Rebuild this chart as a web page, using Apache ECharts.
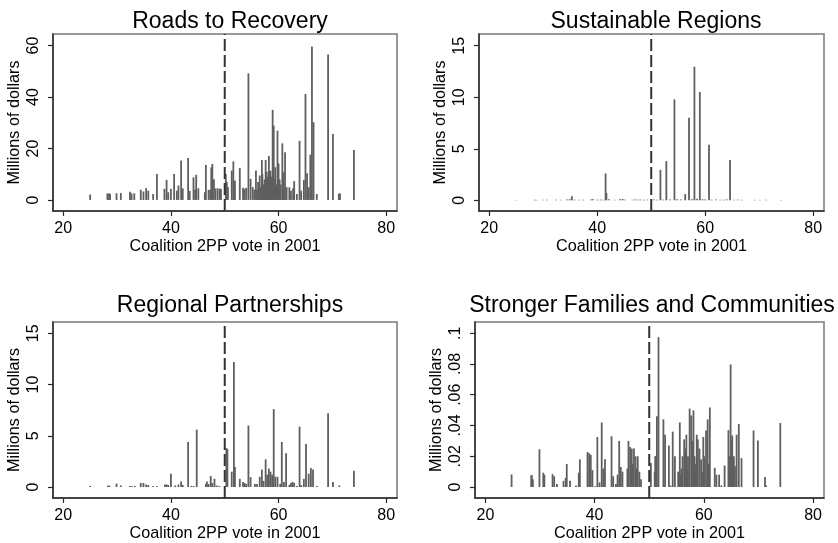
<!DOCTYPE html>
<html>
<head>
<meta charset="utf-8">
<script src="https://cdn.jsdelivr.net/npm/echarts@6/dist/echarts.min.js"></script>
<style>
  html, body { margin: 0; padding: 0; background: #fff; }
  #main { width: 838px; height: 543px; }
</style>
</head>
<body>
<div id="main"></div>
<script type="text/javascript">
    // spikes: [coalition 2PP vote in 2001, millions of dollars]
    var roadsData = [
        [25.0,2.1],[28.2,2.5],[28.5,2.6],[28.7,2.3],[29.9,2.6],[30.7,2.7],[32.4,3.2],[32.7,2.5],[33.2,2.6],
        [34.4,4.0],[34.9,3.3],[35.4,4.6],[35.8,3.6],[36.7,2.3],[37.4,10.1],[38.8,4.3],[39.2,7.8],[39.5,3.0],
        [40.0,4.3],[40.6,10.1],[41.1,3.6],[41.4,5.6],[41.9,15.3],[42.2,4.5],[43.2,16.3],[43.5,3.5],[44.2,8.8],
        [44.5,4.0],[44.7,9.8],[45.1,4.5],[46.3,3.0],[46.5,13.6],[47.0,3.9],[47.3,4.0],[47.5,12.7],[47.7,14.0],
        [48.0,8.0],[48.3,4.5],[48.7,4.5],[49.1,4.4],[49.3,4.3],[50.2,10.1],[50.4,6.9],[50.6,5.0],[51.3,11.4],
        [51.6,15.0],[51.9,7.5],[52.8,12.4],[53.4,4.7],[53.7,4.3],[54.0,4.7],[54.4,49.2],[54.8,8.2],[55.2,5.0],
        [55.5,4.0],[55.8,11.4],[56.0,4.0],[56.2,7.0],[56.5,9.5],[56.7,5.0],[56.9,15.5],[57.0,10.0],[57.2,6.0],
        [57.4,8.0],[57.6,15.5],[57.8,11.0],[57.9,9.0],[58.0,7.0],[58.2,17.1],[58.4,11.0],[58.5,11.4],[58.7,9.0],
        [58.9,35.0],[59.1,28.9],[59.2,8.0],[59.4,12.7],[59.6,6.0],[59.8,26.9],[60.0,14.2],[60.2,8.0],[60.4,6.0],
        [60.7,22.0],[60.9,10.8],[61.0,4.0],[61.2,18.5],[61.5,5.0],[62.0,4.9],[62.3,3.6],[62.7,4.5],[62.9,7.3],
        [63.4,2.3],[63.9,23.0],[64.2,3.6],[64.7,7.8],[65.0,41.2],[65.3,10.4],[65.6,4.9],[65.9,17.6],[66.2,59.6],
        [66.5,30.2],[67.1,2.3],[69.2,56.5],[70.1,25.6],[71.2,2.4],[71.4,2.6],[74.0,19.4]
    ];
    var sustainData = [
        [25.0,0.03],[28.4,0.05],[28.7,0.04],[29.9,0.05],[30.7,0.04],[32.4,0.06],[33.2,0.05],[34.4,0.08],[34.9,0.1],
        [35.3,0.4],[35.8,0.06],[36.7,0.05],[37.4,0.05],[38.9,0.08],[39.2,0.1],[40.0,0.06],[40.6,0.07],[41.1,0.05],
        [41.55,2.6],[41.7,0.7],[42.2,0.1],[43.2,0.05],[44.2,0.1],[44.7,0.12],[45.1,0.06],[46.5,0.05],[47.0,0.08],
        [47.5,0.06],[48.0,0.07],[48.7,0.05],[49.3,0.06],[50.5,0.08],[51.0,0.05],[51.7,2.95],[52.2,0.06],[52.8,3.8],
        [53.5,0.08],[54.3,9.8],[54.8,0.1],[55.5,0.07],[56.3,0.6],[57.0,8.0],[57.5,0.1],[58.0,12.96],[58.5,0.15],
        [59.0,10.5],[59.5,0.1],[60.0,0.08],[60.7,5.4],[61.2,0.06],[62.0,0.07],[62.8,0.05],[63.4,0.06],[64.0,0.08],
        [64.6,3.9],[65.3,0.05],[66.0,0.06],[66.7,0.05],[69.2,0.04],[70.1,0.04],[71.3,0.05],[74.0,0.03]
    ];
    var regionalData = [
        [25.0,0.1],[28.3,0.15],[28.6,0.12],[29.9,0.33],[30.7,0.15],[32.4,0.1],[32.8,0.08],[33.3,0.1],[34.4,0.4],
        [34.9,0.4],[35.4,0.25],[35.8,0.2],[36.7,0.1],[37.4,0.1],[38.9,0.25],[39.2,0.25],[39.5,0.2],[40.0,1.3],
        [40.8,0.15],[41.4,0.25],[41.9,0.55],[42.2,0.2],[43.2,4.4],[43.8,0.1],[44.2,0.1],[44.8,5.6],[46.5,0.3],
        [46.7,0.55],[47.0,0.3],[47.4,1.07],[47.7,0.4],[48.1,0.8],[48.5,0.15],[49.0,0.1],[50.3,3.8],[50.5,3.7],
        [51.3,1.5],[51.7,12.2],[51.9,1.95],[52.8,0.8],[53.4,0.5],[53.7,0.4],[54.0,0.3],[54.4,6.0],[54.8,0.97],
        [55.6,0.3],[56.0,0.3],[56.5,1.0],[56.9,1.7],[57.2,0.6],[57.6,2.7],[57.9,1.2],[58.2,1.8],[58.5,1.5],
        [58.8,1.2],[59.1,7.6],[59.4,1.0],[59.8,1.0],[60.3,0.3],[60.6,4.4],[61.0,0.5],[61.4,3.3],[62.0,0.2],
        [62.3,0.4],[62.6,0.5],[62.9,0.4],[63.4,0.1],[63.9,5.9],[64.2,0.2],[64.7,0.8],[65.1,4.2],[65.6,1.3],
        [66.0,1.85],[66.4,1.7],[67.1,0.1],[69.2,7.2],[70.1,0.5],[71.3,0.15],[74.0,1.6]
    ];
    var familiesData = [
        [24.8,0.0082],[28.4,0.0076],[28.5,0.0078],[28.7,0.005],[29.9,0.0245],[30.6,0.0093],[30.8,0.008],
        [32.3,0.0084],[32.6,0.007],[33.1,0.002],[34.3,0.004],[34.7,0.006],[34.9,0.015],[35.5,0.004],[36.6,0.001],
        [37.1,0.0093],[37.3,0.018],[38.7,0.0227],[39.0,0.022],[39.3,0.021],[39.6,0.011],[40.1,0.0005],[40.5,0.0325],
        [40.9,0.003],[41.3,0.042],[41.6,0.012],[41.9,0.018],[43.1,0.033],[43.4,0.007],[43.9,0.002],[44.2,0.008],
        [44.5,0.03],[44.8,0.013],[45.1,0.01],[46.0,0.012],[46.2,0.03],[46.5,0.026],[46.8,0.025],[47.0,0.015],
        [47.2,0.025],[47.5,0.02],[47.7,0.012],[47.9,0.02],[48.2,0.01],[48.5,0.005],[50.3,0.0156],[51.0,0.01],
        [51.1,0.02],[51.2,0.02],[51.4,0.046],[51.7,0.0974],[52.6,0.044],[52.9,0.034],[53.6,0.027],[53.9,0.001],
        [54.3,0.036],[54.7,0.02],[55.3,0.01],[55.6,0.042],[55.8,0.008],[55.9,0.012],[56.1,0.02],[56.4,0.031],
        [56.6,0.025],[56.8,0.034],[57.0,0.012],[57.1,0.02],[57.4,0.051],[57.7,0.0465],[57.9,0.03],[58.1,0.0498],
        [58.3,0.02],[58.5,0.015],[58.7,0.034],[58.9,0.031],[59.2,0.025],[59.5,0.018],[59.7,0.01],[59.9,0.0325],
        [60.1,0.02],[60.4,0.0368],[60.7,0.044],[60.9,0.015],[61.1,0.0517],[62.0,0.0125],[62.3,0.008],[62.8,0.008],
        [63.2,0.001],[63.8,0.014],[64.5,0.037],[64.7,0.02],[64.9,0.0797],[65.0,0.03],[65.2,0.0335],[65.5,0.02],
        [65.7,0.0136],[66.0,0.034],[66.4,0.041],[66.9,0.0188],[69.1,0.0368],[69.9,0.0303],[71.2,0.0065],
        [71.4,0.001],[74.0,0.0416]
    ];

    var xTicks = [20, 40, 60, 80];
    var roadsTicks = [0, 20, 40, 60];
    var smallTicks = [0, 5, 10, 15];
    var familiesTicks = [0, 0.02, 0.04, 0.06, 0.08, 0.1];
    var cutoff = 50;

    var FONT = "Liberation Sans, Arial, sans-serif";

    var panels = [
        {title: "Roads to Recovery", data: roadsData, yTicks: roadsTicks, ymin: -4.3, ymax: 64.5,
            box: {left: 53, top: 34, width: 344, height: 177}, titleTop: 5, titleX: 225},
        {title: "Sustainable Regions", data: sustainData, yTicks: smallTicks, ymin: -1.04, ymax: 16.14,
            box: {left: 479, top: 34, width: 345, height: 177}, titleTop: 5, titleX: 651},
        {title: "Regional Partnerships", data: regionalData, yTicks: smallTicks, ymin: -1.07, ymax: 16.1,
            box: {left: 53, top: 322, width: 344, height: 176}, titleTop: 289, titleX: 225},
        {title: "Stronger Families and Communities", data: familiesData, yTicks: familiesTicks, ymin: -0.00714, ymax: 0.1073,
            box: {left: 475, top: 322, width: 349, height: 176}, titleTop: 289, titleX: 647}
    ];

    function fmtY(v) {
        var s = String(Math.round(v * 1000) / 1000);
        return s.replace(/^0\./, ".");
    }

    function spike(params, api) {
        var p0 = api.coord([api.value(0), 0]);
        var p1 = api.coord([api.value(0), api.value(1)]);
        return {
            type: "line",
            shape: {x1: p0[0], y1: p0[1], x2: p1[0], y2: p1[1]},
            style: {stroke: "#5f5f5f", lineWidth: 1.8}
        };
    }

    var option = {
        backgroundColor: "#fff",
        animation: false,
        title: [], grid: [], xAxis: [], yAxis: [], series: []
    };

    panels.forEach(function (p, i) {
        option.title.push({
            text: p.title,
            left: p.titleX,
            top: p.titleTop,
            textAlign: "center",
            textStyle: {fontSize: 23, fontWeight: "normal", color: "#000", fontFamily: FONT}
        });
        option.grid.push({
            left: p.box.left, top: p.box.top, width: p.box.width, height: p.box.height,
            show: true, borderColor: "#7a7a7a", borderWidth: 1.5, backgroundColor: "#fff"
        });
        option.xAxis.push({
            gridIndex: i, type: "value", min: 18.1, max: 82,
            name: "Coalition 2PP vote in 2001", nameLocation: "middle", nameGap: 28,
            nameTextStyle: {fontSize: 16.2, color: "#000", fontFamily: FONT},
            axisLine: {show: true, onZero: false, lineStyle: {color: "#2a2a2a", width: 1.5}},
            axisTick: {show: true, length: 5, customValues: xTicks, lineStyle: {color: "#2a2a2a", width: 1.2}},
            axisLabel: {fontSize: 16, color: "#000", fontFamily: FONT, margin: 10, customValues: xTicks},
            splitLine: {show: false}
        });
        option.yAxis.push({
            gridIndex: i, type: "value", min: p.ymin, max: p.ymax,
            name: "Millions of dollars", nameLocation: "middle", nameGap: 30,
            nameTextStyle: {fontSize: 16.2, color: "#000", fontFamily: FONT},
            axisLine: {show: true, onZero: false, lineStyle: {color: "#2a2a2a", width: 1.5}},
            axisTick: {show: true, length: 5, customValues: p.yTicks, lineStyle: {color: "#2a2a2a", width: 1.2}},
            axisLabel: {fontSize: 16, color: "#000", fontFamily: FONT, margin: 11, rotate: 90,
                customValues: p.yTicks, formatter: fmtY},
            splitLine: {show: false}
        });
        option.series.push({
            type: "custom", xAxisIndex: i, yAxisIndex: i,
            renderItem: spike, data: p.data, encode: {x: 0, y: 1}, silent: true, z: 2
        });
        option.series.push({
            type: "line", xAxisIndex: i, yAxisIndex: i, silent: true, z: 3,
            symbol: "none",
            data: [[cutoff, p.ymin], [cutoff, p.ymax]],
            lineStyle: {color: "#333", width: 2, type: [12, 4]}
        });
    });

    var chart = echarts.init(document.getElementById("main"), null, {renderer: "canvas"});
    chart.setOption(option);
</script>
</body>
</html>
